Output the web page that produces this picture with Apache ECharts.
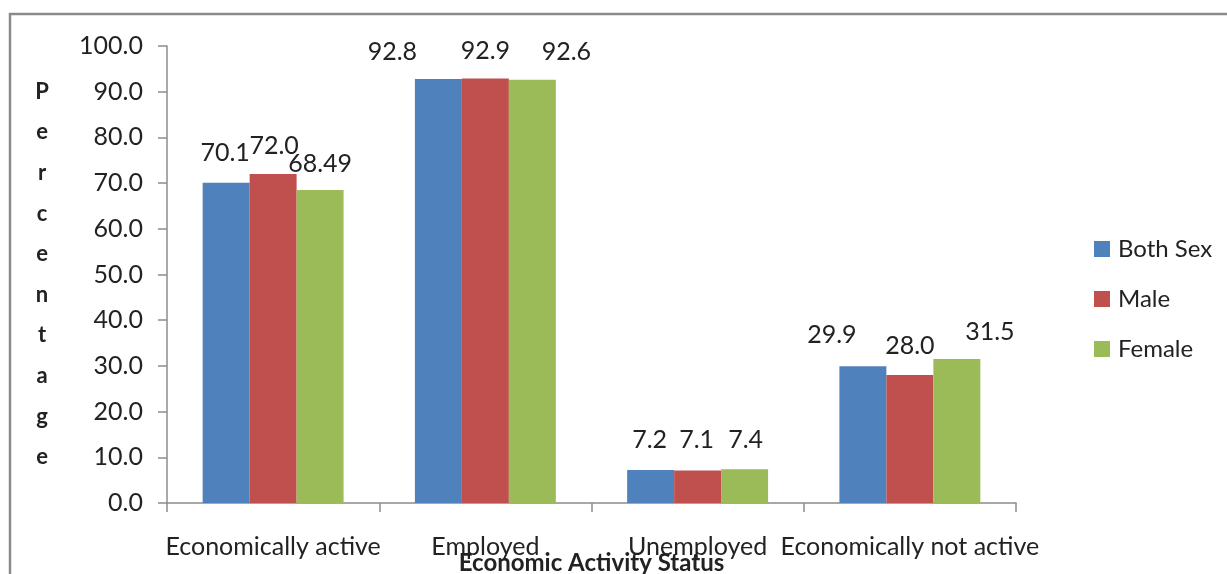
<!DOCTYPE html>
<html>
<head>
<meta charset="utf-8">
<script src="https://cdn.jsdelivr.net/npm/echarts@6/dist/echarts.min.js"></script>
<style>
  html, body { margin: 0; padding: 0; background: #fff; }
  #chart { width: 1227px; height: 574px; }
</style>
</head>
<body>
<div id="chart"></div>
<script>
// Economic activity status by sex (percent)
const categories = ['Economically active', 'Employed', 'Unemployed', 'Economically not active'];
const seriesNames = ['Both Sex', 'Male', 'Female'];
const bothSex = [70.1, 92.8, 7.2, 29.9];
const male = [72.0, 92.9, 7.1, 28.0];
const female = [68.49, 92.6, 7.4, 31.5];
const valueText = [
  ['70.1', '92.8', '7.2', '29.9'],
  ['72.0', '92.9', '7.1', '28.0'],
  ['68.49', '92.6', '7.4', '31.5']
];

// Hand-placed label nudges [dx, dy] so neighbouring labels do not collide
const labelNudge = [
  [[-1, -3], [-46, 0], [-1, -3.5], [-31, -4.5]],
  [[1, -2], [0, -1], [-1, -4], [0, -2.5]],
  [[0, 0], [34, -1], [1, -2.5], [33, -0.5]]
];

const colors = ['#4F81BD', '#C0504D', '#9BBB59'];
const FONT = 'Lato';
const TEXT = '#222';
const AXIS = '#8c8c8c';

function makeSeries(idx, values) {
  return {
    name: seriesNames[idx],
    type: 'bar',
    barGap: '0%',
    barCategoryGap: '33.6%',
    itemStyle: { color: colors[idx] },
    data: values.map((v, i) => ({
      value: v,
      label: {
        show: true,
        position: 'top',
        distance: 14,
        offset: labelNudge[idx][i],
        formatter: valueText[idx][i],
        fontFamily: FONT,
        fontSize: 25,
        color: TEXT
      }
    }))
  };
}

const chart = echarts.init(document.getElementById('chart'), null, { renderer: 'canvas' });
chart.setOption({
  animation: false,
  backgroundColor: '#fff',
  textStyle: { fontFamily: FONT, color: TEXT },
  graphic: [{
    type: 'rect',
    shape: { x: 10, y: 14, width: 1260, height: 620 },
    style: { fill: 'none', stroke: '#8a8a8a', lineWidth: 2.5 },
    silent: true,
    z: -1
  }],
  grid: { left: 167, right: 211, top: 46, bottom: 71, containLabel: false, outerBoundsMode: 'none' },
  legend: {
    orient: 'vertical',
    left: 1089,
    top: 232,
    itemWidth: 16,
    itemHeight: 16,
    itemGap: 26,
    icon: 'rect',
    textStyle: { fontFamily: FONT, fontSize: 24, color: TEXT, padding: [0, 0, 0, 3] },
    data: seriesNames
  },
  xAxis: {
    type: 'category',
    data: categories,
    name: 'Economic Activity Status',
    nameLocation: 'middle',
    nameGap: 48,
    nameMoveOverlap: false,
    nameTextStyle: { fontFamily: FONT, fontSize: 24, fontWeight: 'bold', color: TEXT },
    axisLine: { lineStyle: { color: AXIS, width: 1.5 } },
    axisTick: { show: true, alignWithLabel: false, length: 9, lineStyle: { color: AXIS, width: 1.5 } },
    axisLabel: { fontFamily: FONT, fontSize: 25, color: TEXT, margin: 31, interval: 0, hideOverlap: false }
  },
  yAxis: {
    type: 'value',
    min: 0,
    max: 100,
    interval: 10,
    name: 'P\ne\nr\nc\ne\nn\nt\na\ng\ne',
    nameLocation: 'middle',
    nameRotate: 0,
    nameGap: 125,
    nameMoveOverlap: false,
    nameTextStyle: {
      fontFamily: FONT, fontSize: 22, fontWeight: 'bold', color: TEXT,
      lineHeight: 40.6, align: 'center', verticalAlign: 'middle', padding: [22, 0, 0, 0]
    },
    axisLine: { show: true, lineStyle: { color: AXIS, width: 1.5 } },
    axisTick: { show: true, length: 9, lineStyle: { color: AXIS, width: 1.5 } },
    splitLine: { show: false },
    axisLabel: {
      fontFamily: FONT, fontSize: 25, color: TEXT, margin: 24,
      formatter: v => v.toFixed(1)
    }
  },
  series: [makeSeries(0, bothSex), makeSeries(1, male), makeSeries(2, female)]
});
</script>
</body>
</html>
